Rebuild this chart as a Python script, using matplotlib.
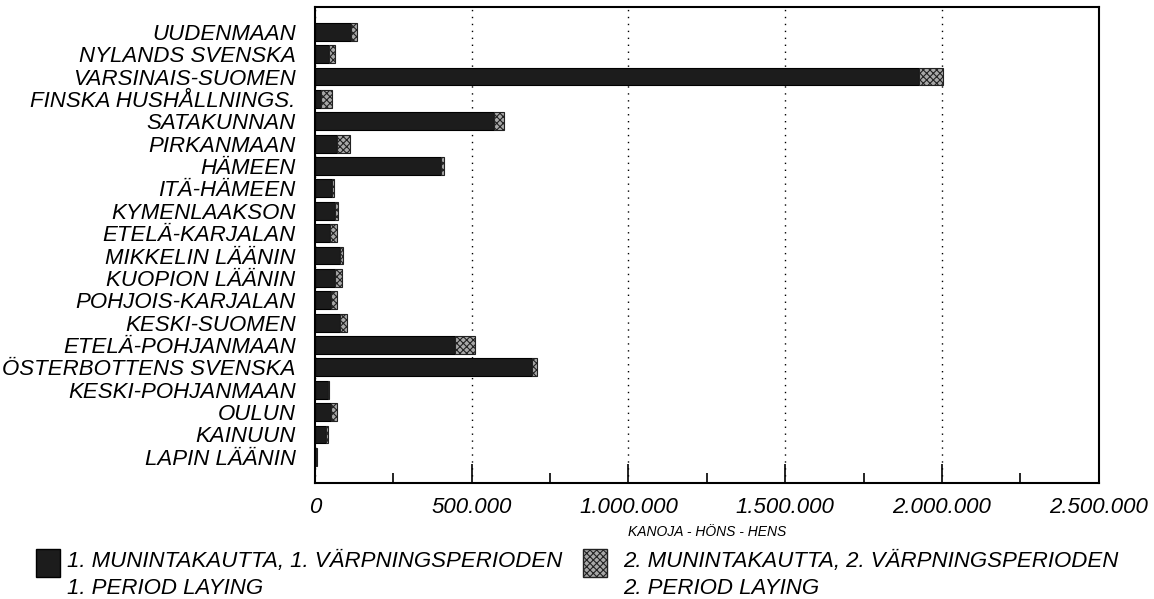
import numpy as np
import matplotlib.pyplot as plt
from matplotlib.ticker import FuncFormatter, MultipleLocator

# alueet (ylhäältä alas)
regions = ['UUDENMAAN', 'NYLANDS SVENSKA', 'VARSINAIS-SUOMEN', 'FINSKA HUSHÅLLNINGS.',
           'SATAKUNNAN', 'PIRKANMAAN', 'HÄMEEN', 'ITÄ-HÄMEEN', 'KYMENLAAKSON',
           'ETELÄ-KARJALAN', 'MIKKELIN LÄÄNIN', 'KUOPION LÄÄNIN', 'POHJOIS-KARJALAN',
           'KESKI-SUOMEN', 'ETELÄ-POHJANMAAN', 'ÖSTERBOTTENS SVENSKA', 'KESKI-POHJANMAAN',
           'OULUN', 'KAINUUN', 'LAPIN LÄÄNIN']

# kanoja, 1. munintakausi
period1 = [115000, 43000, 1927000, 20000, 571000, 70000, 401000, 53000, 65000, 48000,
           80000, 65000, 51000, 80000, 447000, 693000, 40000, 51000, 35000, 4000]
# kanoja, 2. munintakausi
period2 = [18000, 22000, 75000, 34000, 32000, 41000, 9000, 9000, 8000, 23000,
           10000, 21000, 19000, 23000, 64000, 14000, 3000, 18000, 5000, 1000]

legend1 = ['1. MUNINTAKAUTTA, 1. VÄRPNINGSPERIODEN', '1. PERIOD LAYING']
legend2 = ['2. MUNINTAKAUTTA, 2. VÄRPNINGSPERIODEN', '2. PERIOD LAYING']

plt.rcParams['font.family'] = ['Liberation Sans', 'DejaVu Sans']
plt.rcParams['font.style'] = 'italic'
plt.rcParams['hatch.linewidth'] = 0.8

fig = plt.figure(figsize=(11.54, 5.99), dpi=100)
ax = fig.add_axes([0.273, 0.194, 0.679, 0.794])

y = np.arange(len(regions))
ax.barh(y, period1, height=0.8, color='#1c1c1c', edgecolor='black', linewidth=0.8)
ax.barh(y, period2, left=period1, height=0.8, color='#a8a8a8', edgecolor='#222222',
        hatch='xxxxx', linewidth=0.8)

ax.set_xlim(0, 2500000)
ax.set_ylim(20.16, -1.1)
ax.set_yticks(y)
ax.set_yticklabels(regions, fontsize=16, style='italic')
ax.tick_params(axis='y', length=0, pad=14)

ax.xaxis.set_major_locator(MultipleLocator(500000))
ax.xaxis.set_minor_locator(MultipleLocator(250000))
ax.xaxis.set_major_formatter(FuncFormatter(lambda v, p: f'{int(v):,}'.replace(',', '.')))
ax.tick_params(axis='x', which='major', direction='in', length=14, width=1.2,
               labelsize=16, pad=10)
ax.tick_params(axis='x', which='minor', direction='in', length=7, width=1.2)
for lab in ax.get_xticklabels():
    lab.set_style('italic')

ax.grid(axis='x', which='major', linestyle=(0, (1, 4)), color='black', linewidth=1)
ax.set_axisbelow(True)
for s in ax.spines.values():
    s.set_linewidth(1.5)

ax.set_xlabel('KANOJA - HÖNS - HENS', fontsize=10, style='italic', labelpad=5)

# selite
fig.patches.append(plt.Rectangle((0.031, 0.036), 0.021, 0.048, transform=fig.transFigure,
                                 facecolor='#1c1c1c', edgecolor='black'))
fig.patches.append(plt.Rectangle((0.505, 0.036), 0.021, 0.048, transform=fig.transFigure,
                                 facecolor='#a8a8a8', edgecolor='#222222', hatch='xxxxx'))
fig.text(0.058, 0.063, legend1[0], fontsize=16, style='italic', va='center')
fig.text(0.058, 0.018, legend1[1], fontsize=16, style='italic', va='center')
fig.text(0.540, 0.063, legend2[0], fontsize=16, style='italic', va='center')
fig.text(0.540, 0.018, legend2[1], fontsize=16, style='italic', va='center')

fig.savefig('out.png', dpi=100)
